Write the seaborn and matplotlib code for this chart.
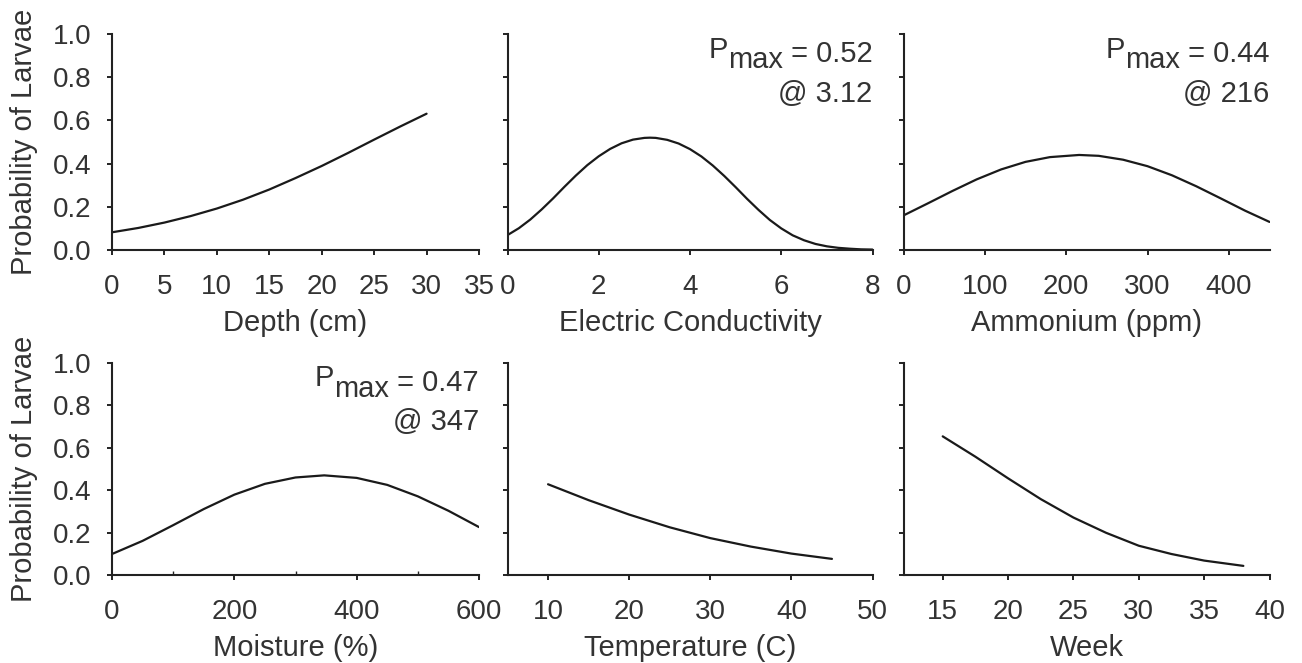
import matplotlib
matplotlib.use("Agg")
import matplotlib.pyplot as plt
import seaborn as sns
import pandas as pd

# ---- data ----
depth_x = [0, 2.5, 5, 7.5, 10, 12.5, 15, 17.5, 20, 22.5, 25, 27.5, 30]
depth_p = [0.082, 0.102, 0.127, 0.157, 0.192, 0.233, 0.280, 0.333, 0.389, 0.449, 0.511, 0.572, 0.631]

ec_x = [0, 0.25, 0.5, 0.75, 1.0, 1.25, 1.5, 1.75, 2.0, 2.25, 2.5, 2.75, 3.0, 3.12, 3.25, 3.5,
        3.75, 4.0, 4.25, 4.5, 4.75, 5.0, 5.25, 5.5, 5.75, 6.0, 6.25, 6.5, 6.75, 7.0, 7.25,
        7.5, 7.75, 8.0]
ec_p = [0.069, 0.101, 0.141, 0.188, 0.239, 0.293, 0.345, 0.393, 0.434, 0.468, 0.494, 0.511,
        0.519, 0.520, 0.519, 0.510, 0.493, 0.467, 0.433, 0.391, 0.343, 0.291, 0.237, 0.186,
        0.139, 0.100, 0.068, 0.045, 0.028, 0.017, 0.010, 0.006, 0.003, 0.002]

amm_x = [0, 30, 60, 90, 120, 150, 180, 216, 240, 270, 300, 330, 360, 390, 420, 450]
amm_p = [0.160, 0.216, 0.273, 0.327, 0.373, 0.408, 0.430, 0.440, 0.436, 0.418, 0.388, 0.346,
         0.295, 0.239, 0.182, 0.130]

moist_x = [0, 50, 100, 150, 200, 250, 300, 347, 400, 450, 500, 550, 600]
moist_p = [0.099, 0.161, 0.235, 0.311, 0.379, 0.430, 0.460, 0.470, 0.458, 0.425, 0.371, 0.303, 0.226]

temp_x = [10, 15, 20, 25, 30, 35, 40, 45]
temp_p = [0.428, 0.353, 0.285, 0.225, 0.174, 0.134, 0.101, 0.076]

week_x = [15, 17.5, 20, 22.5, 25, 27.5, 30, 32.5, 35, 38]
week_p = [0.654, 0.558, 0.456, 0.358, 0.271, 0.199, 0.138, 0.099, 0.068, 0.043]

x_labels = ["Depth (cm)", "Electric Conductivity", "Ammonium (ppm)",
            "Moisture (%)", "Temperature (C)", "Week"]
y_label = "Probability of Larvae"
y_ticks = [0.0, 0.2, 0.4, 0.6, 0.8, 1.0]
x_ticks = [[0, 5, 10, 15, 20, 25, 30, 35], [0, 2, 4, 6, 8], [0, 100, 200, 300, 400],
           [0, 200, 400, 600], [10, 20, 30, 40, 50], [15, 20, 25, 30, 35, 40]]
x_lims = [(0, 35), (0, 8), (0, 450), (0, 600), (5, 50), (12, 40)]
annotations = {1: ("0.52", "3.12"), 2: ("0.44", "216"), 3: ("0.47", "347")}

series = [(depth_x, depth_p), (ec_x, ec_p), (amm_x, amm_p),
          (moist_x, moist_p), (temp_x, temp_p), (week_x, week_p)]

# ---- style ----
sns.set_style("ticks")
plt.rcParams['font.family'] = ['Liberation Sans', 'DejaVu Sans']
TXT = "#333333"
AX = "#222222"
FS_TICK = 20
FS_LAB = 21
plt.rcParams.update({
    "text.color": TXT, "axes.labelcolor": TXT,
    "xtick.color": AX, "ytick.color": AX,
    "xtick.labelcolor": TXT, "ytick.labelcolor": TXT,
    "axes.edgecolor": AX,
})

W, H = 1302, 663
fig = plt.figure(figsize=(W / 100, H / 100), dpi=100)

cols = [(112, 367), (507.5, 365), (903.5, 366)]
rows = [(34, 250), (363, 575)]

for i, (xs, ps) in enumerate(series):
    r, c = divmod(i, 3)
    left, width = cols[c]
    top, bot = rows[r]
    ax = fig.add_axes([left / W, 1 - bot / H, width / W, (bot - top) / H])
    df = pd.DataFrame({"x": xs, "p": ps})
    sns.lineplot(data=df, x="x", y="p", ax=ax, color="#1a1a1a", linewidth=1.6)
    ax.set_xlim(*x_lims[i])
    ax.set_ylim(0, 1.0)
    ax.set_xticks(x_ticks[i])
    ax.set_yticks(y_ticks)
    for s in ["top", "right"]:
        ax.spines[s].set_visible(False)
    for s in ["left", "bottom"]:
        ax.spines[s].set_linewidth(1.5)
        ax.spines[s].set_color(AX)
    ax.tick_params(axis="both", which="major", direction="out", length=3.5, width=1.4,
                   labelsize=FS_TICK)
    ax.tick_params(axis="x", which="major", pad=13.5)
    ax.tick_params(axis="y", which="major", pad=11)
    ax.set_xlabel(x_labels[i], fontsize=FS_LAB, labelpad=7)
    if c == 0:
        ax.set_yticklabels([f"{v:.1f}" for v in y_ticks])
        ax.set_ylabel(y_label, fontsize=FS_LAB, labelpad=11)
    else:
        ax.set_yticklabels([])
        ax.set_ylabel("")
    if i == 3:
        ax.set_xticks([100, 300, 500], minor=True)
        ax.tick_params(axis="x", which="minor", direction="in", length=3, width=1.0)
    if i in annotations:
        pv, at = annotations[i]
        t_rest = ax.text(1.0, 0.87, " = " + pv, ha="right", va="baseline",
                         transform=ax.transAxes, fontsize=FS_LAB, color=TXT)
        t_max = ax.annotate("max", xy=(0, 0), xycoords=t_rest, xytext=(0, -4.5),
                            textcoords="offset points", ha="right", va="bottom",
                            fontsize=FS_LAB, color=TXT)
        ax.annotate("P", xy=(0, 0), xycoords=t_max, xytext=(0, 7.5),
                    textcoords="offset points", ha="right", va="bottom",
                    fontsize=FS_LAB, color=TXT)
        ax.text(1.0, 0.685, "@ " + at, ha="right", va="baseline",
                transform=ax.transAxes, fontsize=FS_LAB, color=TXT)

fig.savefig("out.png", dpi=100, facecolor="white")
